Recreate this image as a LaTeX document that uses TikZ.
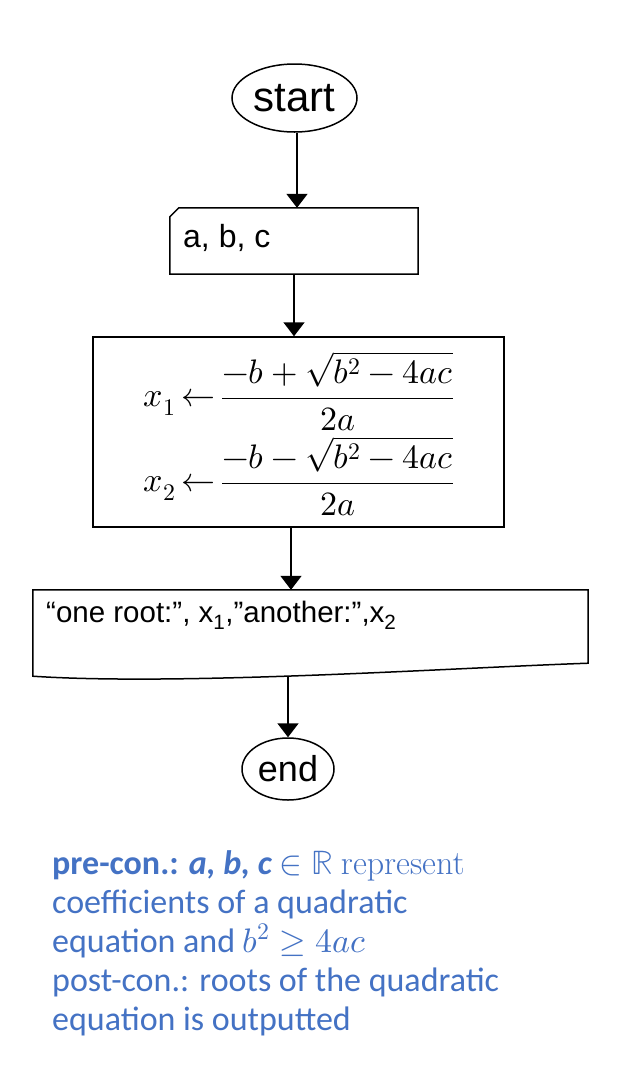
\documentclass[tikz,border=0pt]{standalone}
\usepackage{fontspec}
\usepackage{unicode-math}
\usetikzlibrary{arrows.meta,shapes.geometric}
\newfontfamily\arialf{Liberation Sans}
\newfontfamily\calib{Carlito}
\definecolor{noteblue}{HTML}{4472C4}
\begin{document}
\begin{tikzpicture}[x=1pt,y=-1pt,
  box/.style={draw,line width=1.5pt},
  arr/.style={line width=1.8pt,-{Triangle[length=14pt,width=21pt]}},
  term/.style={ellipse,draw,line width=1.5pt,inner sep=0pt},
  note/.style={anchor=base west,inner sep=0pt,text=noteblue,font=\calib\fontsize{34}{40}\selectfont}]
\fill[white] (0,0) rectangle (618,1082);
\useasboundingbox (0,0) rectangle (618,1082);
% start
\node[term,minimum width=125pt,minimum height=68pt,font=\arialf\fontsize{42}{50}\selectfont] (start) at (294.5,98) {start};
% input
\node[minimum width=248pt,minimum height=66pt,inner sep=0pt] (in) at (294,241) {};
\draw[box] ([yshift=-9pt]in.north west) -- ([xshift=9pt]in.north west) -- (in.north east) -- (in.south east) -- (in.south west) -- cycle;
\node[anchor=base west,inner sep=0pt,font=\arialf\fontsize{32}{38}\selectfont] (intext) at (183,247) {a, b, c};
% formula box
\node[box,minimum width=411pt,minimum height=190pt,inner sep=0pt] (fbox) at (298.5,432) {};
\node[anchor=center,inner sep=0pt,align=center,font=\fontsize{34}{85}\selectfont] (formula) at (299,433.5)
  {$x_1\,{\leftarrow}\,\dfrac{-b+\sqrt{b^2-4ac}}{2a}$\\$x_2\,{\leftarrow}\,\dfrac{-b-\sqrt{b^2-4ac}}{2a}$};
% output
\node[minimum width=555pt,minimum height=73pt,inner sep=0pt] (out) at (310.5,626.5) {};
\coordinate (outb) at (288,677);
\draw[box] (out.north west) -- (out.north east) -- (out.south east) .. controls (450,668) and (180,686) .. ([yshift=-13pt]out.south west) -- cycle;
\node[anchor=base west,inner sep=0pt,font=\arialf\fontsize{29.5}{35}\selectfont] (outtext) at (46,622) {“one root:”, x\textsubscript{1},”another:”,x\textsubscript{2}};
% end
\node[term,minimum width=92pt,minimum height=62pt,font=\arialf\fontsize{36}{42}\selectfont] (end) at (288,769) {end};
% arrows
\draw[arr] ([xshift=2.5pt]start.south) -- ([xshift=2.5pt]start.south |- in.north);
\draw[arr] (in.south) -- (in.south |- fbox.north);
\draw[arr] ([xshift=-7.5pt]fbox.south) -- ([xshift=-7.5pt]fbox.south |- out.north);
\draw[arr] (outb) -- (end.north);
% notes
\node[note] (l1) at (52,874) {{\bfseries pre-con.:} {\bfseries\itshape a, b, c} $\in\mathbb{R}$ {\rmfamily represent}};
\node[note] (l2) at (52,913) {coefficients of a quadratic};
\node[note] (l3) at (52,952) {equation and $b^2\geq 4ac$};
\node[note] (l4) at (52,991) {post-con.: roots of the quadratic};
\node[note] (l5) at (52,1030) {equation is outputted};
\end{tikzpicture}
\end{document}
